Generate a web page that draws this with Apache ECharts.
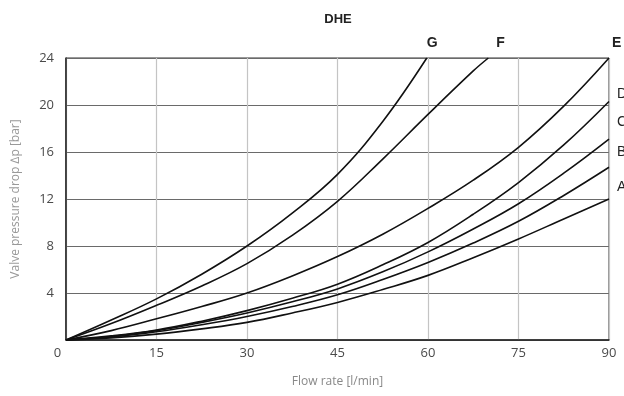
<!DOCTYPE html>
<html>
<head>
<meta charset="utf-8">
<script src="https://cdn.jsdelivr.net/npm/echarts@6/dist/echarts.min.js"></script>
<style>
html,body{margin:0;padding:0;background:#fff;}
#chart{width:624px;height:396px;}
</style>
</head>
<body>
<div id="chart"></div>
<script>
// ---- data ----
const titleText = 'DHE';
const xAxisName = 'Flow rate [l/min]';
const yAxisName = 'Valve pressure drop \u2206p [bar]';
const xTicks = [0, 15, 30, 45, 60, 75, 90];
const yTicks = [0, 4, 8, 12, 16, 20, 24];

const curveNames = ['G', 'F', 'E', 'D', 'C', 'B', 'A'];

// flow [l/min] and pressure drop [bar] readings per curve
const flowG = [0, 7.5, 15, 22.5, 30, 37.5, 45, 52.5, 59.8];
const dpG   = [0, 1.7, 3.5, 5.6, 8.0, 10.8, 14.1, 18.6, 24];

const flowF = [0, 7.5, 15, 22.5, 30, 37.5, 45, 52.5, 60, 67.5, 70];
const dpF   = [0, 1.4, 2.95, 4.6, 6.5, 8.9, 11.8, 15.4, 19.2, 22.9, 24];

const flowStd = [0, 7.5, 15, 22.5, 30, 37.5, 45, 52.5, 60, 67.5, 75, 82.5, 90];
const dpE = [0, 0.8, 1.8, 2.85, 4.0, 5.45, 7.1, 9.0, 11.2, 13.6, 16.4, 19.9, 24];
const dpD = [0, 0.35, 0.85, 1.6, 2.5, 3.55, 4.75, 6.4, 8.3, 10.7, 13.4, 16.6, 20.3];
const dpC = [0, 0.3, 0.8, 1.5, 2.3, 3.25, 4.35, 5.8, 7.5, 9.45, 11.6, 14.2, 17.1];
const dpB = [0, 0.25, 0.7, 1.3, 2.0, 2.85, 3.85, 5.15, 6.6, 8.25, 10.1, 12.3, 14.7];
const dpA = [0, 0.18, 0.5, 0.95, 1.5, 2.3, 3.2, 4.3, 5.5, 7.0, 8.6, 10.3, 12.0];

// ---- build ----
const pairs = (xs, ys) => xs.map((x, i) => [x, ys[i]]);
const curves = [
  { name: 'G', data: pairs(flowG, dpG), off: [0, -15], bold: true },
  { name: 'F', data: pairs(flowF, dpF), off: [8, -15], bold: true },
  { name: 'E', data: pairs(flowStd, dpE), off: [3, -15], bold: true },
  { name: 'D', data: pairs(flowStd, dpD), off: [8, -7], bold: false },
  { name: 'C', data: pairs(flowStd, dpC), off: [8, -17], bold: false },
  { name: 'B', data: pairs(flowStd, dpB), off: [8, -15], bold: false },
  { name: 'A', data: pairs(flowStd, dpA), off: [8, -12], bold: false }
];

const chart = echarts.init(document.getElementById('chart'), null, { renderer: 'canvas' });
const labelFont = 'Liberation Sans, Arial, sans-serif';
const tickFont = 'Open Sans, Noto Sans, sans-serif';

chart.setOption({
  animation: false,
  backgroundColor: '#fff',
  title: {
    text: titleText,
    left: 333,
    top: 8,
    textAlign: 'center',
    textStyle: { fontFamily: labelFont, fontSize: 13, fontWeight: 'bold', color: '#222' }
  },
  grid: {
    left: 66, right: 15, top: 58, bottom: 56,
    containLabel: false,
    show: true, borderColor: '#333', borderWidth: 1
  },
  xAxis: {
    type: 'value', min: 0, max: 90, interval: 15,
    name: xAxisName, nameLocation: 'middle', nameGap: 36,
    nameTextStyle: { fontFamily: tickFont, fontSize: 12, color: '#888' },
    axisLine: { show: true, onZero: false, lineStyle: { color: '#222', width: 1.5 } },
    axisTick: { show: false },
    axisLabel: {
      margin: 7, fontFamily: tickFont, fontSize: 13, color: '#4a4a4a',
      formatter: v => v === 0 ? '{z|0}' : (xTicks.includes(v) ? String(v) : ''),
      rich: { z: { fontFamily: tickFont, fontSize: 13, color: '#4a4a4a', padding: [0, 17, 0, 0] } }
    },
    splitLine: { show: true, lineStyle: { color: '#c4c4c4', width: 1.2 } }
  },
  yAxis: {
    type: 'value', min: 0, max: 24, interval: 4,
    name: yAxisName, nameLocation: 'middle', nameGap: 44,
    nameTextStyle: { fontFamily: tickFont, fontSize: 12, color: '#999' },
    axisLine: { show: true, onZero: false, lineStyle: { color: '#222', width: 1.5 } },
    axisTick: { show: false },
    axisLabel: {
      margin: 12, fontFamily: tickFont, fontSize: 13, color: '#4a4a4a',
      formatter: v => (v === 0 ? '' : (yTicks.includes(v) ? String(v) : ''))
    },
    splitLine: { show: true, lineStyle: { color: '#6a6a6a', width: 1.2 } }
  },
  series: curves.map(c => ({
    name: c.name,
    type: 'line',
    data: c.data,
    smooth: 0.4,
    symbol: 'none',
    lineStyle: { color: '#111', width: 1.6 },
    emphasis: { disabled: true },
    endLabel: {
      show: true,
      formatter: c.name,
      distance: 0,
      offset: c.off,
      fontFamily: labelFont,
      fontSize: 14,
      fontWeight: c.bold ? 'bold' : 'normal',
      color: '#222'
    }
  }))
});
</script>
</body>
</html>
